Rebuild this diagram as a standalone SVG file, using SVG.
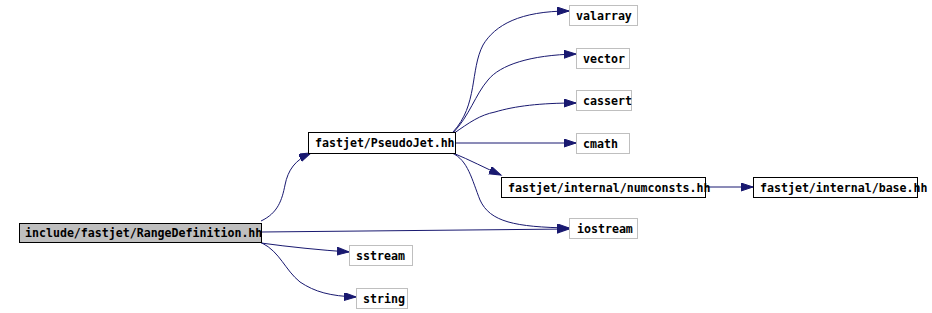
<svg xmlns="http://www.w3.org/2000/svg" width="932" height="313" viewBox="0 0 932 313">
<style>
.n rect{fill:#ffffff;stroke:#000000;stroke-width:1}
.g rect{fill:#ffffff;stroke:#bfbfbf;stroke-width:1}
.m rect{fill:#bfbfbf;stroke:#000000;stroke-width:1}
text{font-family:"DejaVu Sans Mono","Liberation Mono",monospace;font-weight:bold;font-size:11.6px;fill:#000000}
.e path{fill:none;stroke:#191970;stroke-width:1}
</style>
<defs>
<marker id="ah" markerUnits="userSpaceOnUse" markerWidth="14" markerHeight="10" refX="12" refY="4" orient="auto">
<path d="M0,0 L12,4 L0,8 Z" fill="#191970" stroke="#191970" stroke-width="1"/>
</marker>
</defs>
<g id="connectors" class="e">
<path d="M261,221 C278,213 282,200 285,185 C288,170 295,160 311,153" marker-end="url(#ah)"/>
<path d="M261,232 L569,229" marker-end="url(#ah)"/>
<path d="M261,243 C290,247 320,250 349,252" marker-end="url(#ah)"/>
<path d="M262,243 C280,252 285,270 300,282 C315,292 330,296 356,297" marker-end="url(#ah)"/>
<path d="M453,132 C478,105 470,70 483,45 C495,25 520,11 569,11" marker-end="url(#ah)"/>
<path d="M453,133 C470,115 475,95 488,80 C500,65 530,55 576,54" marker-end="url(#ah)"/>
<path d="M453,134 C470,122 480,115 495,112 C515,106 540,103 576,103" marker-end="url(#ah)"/>
<path d="M455,143 L576,143" marker-end="url(#ah)"/>
<path d="M453,153 C470,160 485,168 501,175" marker-end="url(#ah)"/>
<path d="M452,153 C468,160 472,180 480,200 C490,222 515,227 569,228" marker-end="url(#ah)"/>
<path d="M705,187 L753,187" marker-end="url(#ah)"/>
</g>
<g id="node_main" class="m"><rect x="19.5" y="223.5" width="242" height="19"/><text x="25" y="237">include/fastjet/RangeDefinition.hh</text></g>
<g id="node_pseudojet" class="n"><rect x="308.5" y="132.5" width="147" height="21"/><text x="315" y="147">fastjet/PseudoJet.hh</text></g>
<g id="node_valarray" class="g"><rect x="569.5" y="5.5" width="68" height="20"/><text x="576" y="20">valarray</text></g>
<g id="node_vector" class="g"><rect x="576.5" y="48.5" width="53" height="20"/><text x="583" y="63">vector</text></g>
<g id="node_cassert" class="g"><rect x="576.5" y="90.5" width="55" height="20"/><text x="583" y="105">cassert</text></g>
<g id="node_cmath" class="g"><rect x="576.5" y="133.5" width="53" height="20"/><text x="583" y="148">cmath</text></g>
<g id="node_numconsts" class="n"><rect x="501.5" y="177.5" width="204" height="20"/><text x="508" y="192">fastjet/internal/numconsts.hh</text></g>
<g id="node_base" class="n"><rect x="753.5" y="177.5" width="164" height="20"/><text x="760" y="192">fastjet/internal/base.hh</text></g>
<g id="node_iostream" class="g"><rect x="569.5" y="218.5" width="68" height="20"/><text x="577" y="233">iostream</text></g>
<g id="node_sstream" class="g"><rect x="349.5" y="245.5" width="63" height="20"/><text x="356" y="260">sstream</text></g>
<g id="node_string" class="g"><rect x="356.5" y="288.5" width="51" height="20"/><text x="363" y="303">string</text></g>
</svg>
